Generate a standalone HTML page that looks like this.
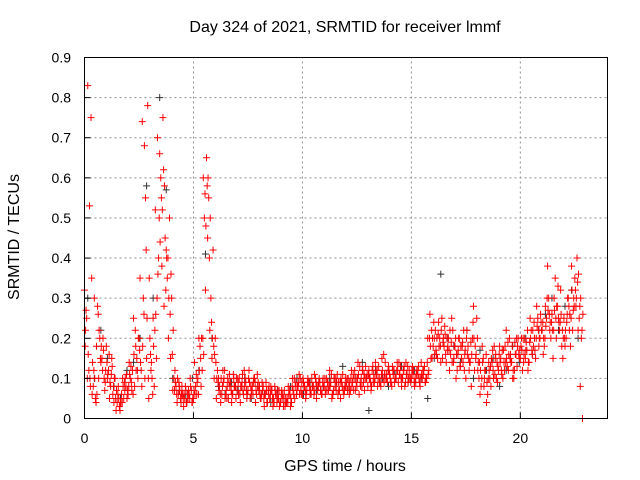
<!DOCTYPE html>
<html><head><meta charset="utf-8"><style>
body{margin:0;background:#fff;}
svg{display:block;font-family:"Liberation Sans",sans-serif;}
</style></head><body>
<svg id="chart" width="640" height="480" viewBox="0 0 640 480">
<rect width="640" height="480" fill="#fff"/>
<text x="345" y="32" font-size="16" text-anchor="middle">Day 324 of 2021, SRMTID for receiver lmmf</text>
<g id="grid"></g>
<g id="marks"></g>
<rect x="84.5" y="57.5" width="523" height="361" fill="none" stroke="#000" stroke-width="1"/>
<g id="axes"></g>
<text x="345" y="471" font-size="16" text-anchor="middle">GPS time / hours</text>
<text transform="translate(19,237) rotate(-90)" font-size="16" text-anchor="middle">SRMTID / TECUs</text>
</svg>
<script>
const xTicks=[0,5,10,15,20];
const yTicks=[0,0.1,0.2,0.3,0.4,0.5,0.6,0.7,0.8,0.9];
const yTickLabels=["0","0.1","0.2","0.3","0.4","0.5","0.6","0.7","0.8","0.9"];
const redStart=0, redStep=0.1;
const redValues=[0.32,0.25,0.12,0.75,0.08,0.05,0.28,0.2,0.15,0.1,
0.18,0.12,0.08,0.06,0.1,0.04,0.03,0.06,0.05,0.08,
0.06,0.1,0.12,0.08,0.15,0.2,0.12,0.3,0.55,0.78,
0.2,0.1,0.08,0.15,0.4,0.6,0.75,0.45,0.35,0.5,
0.3,0.1,0.08,0.06,0.05,0.06,0.05,0.04,0.06,0.07,
0.05,0.08,0.1,0.18,0.12,0.5,0.65,0.55,0.3,0.42,
0.2,0.12,0.08,0.06,0.1,0.07,0.05,0.09,0.06,0.08,
0.07,0.1,0.08,0.06,0.09,0.07,0.05,0.08,0.1,0.06,
0.07,0.05,0.08,0.06,0.04,0.05,0.07,0.04,0.06,0.05,
0.04,0.06,0.03,0.05,0.07,0.04,0.06,0.09,0.08,0.1,
0.06,0.08,0.07,0.09,0.06,0.08,0.1,0.07,0.09,0.06,
0.08,0.1,0.07,0.09,0.06,0.08,0.11,0.07,0.09,0.06,
0.08,0.1,0.07,0.09,0.12,0.08,0.06,0.1,0.09,0.13,
0.08,0.1,0.12,0.09,0.11,0.13,0.08,0.1,0.14,0.09,
0.11,0.08,0.12,0.1,0.09,0.13,0.1,0.08,0.11,0.12,
0.1,0.12,0.09,0.11,0.08,0.1,0.13,0.1,0.12,0.15,
0.18,0.22,0.15,0.2,0.25,0.18,0.14,0.2,0.16,0.22,
0.18,0.12,0.2,0.15,0.22,0.1,0.18,0.14,0.2,0.12,
0.25,0.1,0.08,0.15,0.12,0.06,0.1,0.14,0.18,0.1,
0.12,0.15,0.1,0.18,0.13,0.2,0.14,0.1,0.16,0.2,
0.15,0.12,0.2,0.17,0.14,0.22,0.18,0.15,0.25,0.2,
0.22,0.18,0.25,0.3,0.2,0.15,0.35,0.28,0.22,0.18,
0.25,0.2,0.3,0.18,0.22,0.35,0.4,0.25,0.2];
const red2Start=0.05, red2Step=0.1;
const red2Values=[0.22,0.83,0.1,0.06,0.3,0.18,0.1,0.14,0.2,0.09,
0.1,0.05,0.15,0.04,0.02,0.08,0.04,0.1,0.07,0.05,
0.14,0.09,0.25,0.18,0.1,0.35,0.74,0.68,0.15,0.05,
0.12,0.25,0.52,0.7,0.66,0.38,0.28,0.42,0.2,0.15,
0.07,0.12,0.04,0.08,0.06,0.03,0.07,0.05,0.1,0.04,
0.14,0.06,0.2,0.08,0.6,0.32,0.45,0.22,0.15,0.1,
0.05,0.1,0.04,0.12,0.05,0.08,0.11,0.04,0.1,0.05,
0.09,0.04,0.11,0.08,0.05,0.12,0.06,0.09,0.04,0.08,
0.06,0.09,0.03,0.07,0.06,0.08,0.03,0.07,0.05,0.03,
0.07,0.05,0.04,0.08,0.03,0.1,0.05,0.07,0.11,0.06,
0.09,0.05,0.1,0.06,0.08,0.11,0.05,0.09,0.07,0.1,
0.06,0.09,0.12,0.05,0.1,0.07,0.09,0.05,0.11,0.08,
0.1,0.06,0.12,0.07,0.1,0.14,0.09,0.12,0.07,0.1,
0.12,0.07,0.09,0.14,0.08,0.1,0.15,0.09,0.11,0.13,
0.09,0.12,0.1,0.14,0.11,0.08,0.12,0.14,0.09,0.1,
0.13,0.08,0.12,0.1,0.14,0.11,0.09,0.2,0.26,0.15,
0.2,0.16,0.24,0.14,0.19,0.21,0.17,0.12,0.25,0.15,
0.1,0.17,0.13,0.19,0.16,0.22,0.12,0.08,0.28,0.15,
0.12,0.06,0.18,0.1,0.04,0.14,0.08,0.12,0.15,0.09,
0.18,0.11,0.14,0.22,0.12,0.16,0.1,0.19,0.13,0.17,
0.2,0.14,0.17,0.12,0.25,0.16,0.2,0.28,0.18,0.24,
0.16,0.28,0.38,0.22,0.26,0.3,0.2,0.25,0.32,0.15,
0.18,0.26,0.22,0.38,0.3,0.28,0.22,0.08,0.0];
const red3Start=0.03, red3Step=0.1;
const red3Values=[0.18,0.1,0.53,0.35,0.12,0.04,0.26,0.15,0.12,0.07,
0.14,0.16,0.11,0.08,0.05,0.06,0.02,0.04,0.09,0.11,
0.08,0.13,0.06,0.22,0.12,0.17,0.08,0.26,0.42,0.1,
0.16,0.06,0.22,0.3,0.5,0.55,0.62,0.32,0.4,0.26,
0.16,0.07,0.06,0.09,0.04,0.05,0.08,0.06,0.05,0.04,
0.07,0.11,0.06,0.15,0.2,0.56,0.58,0.4,0.24,0.18,
0.14,0.09,0.06,0.08,0.12,0.05,0.09,0.07,0.11,0.08,
0.1,0.06,0.09,0.12,0.07,0.1,0.08,0.06,0.09,0.11,
0.08,0.06,0.05,0.09,0.07,0.06,0.05,0.08,0.04,0.07,
0.06,0.03,0.05,0.04,0.06,0.08,0.1,0.06,0.09,0.07,
0.1,0.07,0.09,0.08,0.1,0.06,0.09,0.08,0.07,0.09,
0.1,0.07,0.08,0.11,0.07,0.1,0.06,0.09,0.08,0.07,
0.09,0.08,0.1,0.11,0.07,0.1,0.13,0.08,0.11,0.1,
0.11,0.09,0.13,0.1,0.12,0.09,0.11,0.16,0.1,0.12,
0.1,0.13,0.09,0.12,0.14,0.1,0.12,0.09,0.13,0.1,
0.12,0.09,0.11,0.13,0.1,0.12,0.09,0.14,0.2,0.22,
0.24,0.17,0.21,0.18,0.15,0.23,0.2,0.17,0.19,0.14,
0.2,0.16,0.13,0.18,0.12,0.2,0.15,0.19,0.24,0.18,
0.2,0.14,0.1,0.08,0.16,0.1,0.13,0.17,0.11,0.14,
0.16,0.12,0.17,0.14,0.19,0.15,0.18,0.12,0.2,0.16,
0.18,0.2,0.15,0.22,0.19,0.17,0.24,0.2,0.22,0.26,
0.24,0.2,0.3,0.26,0.24,0.22,0.25,0.33,0.24,0.22,
0.2,0.24,0.28,0.25,0.27,0.32,0.34,0.28,0.22];
const red4Start=0.07, red4Step=0.1;
const red4Values=[0.27,0.16,0.08,0.14,0.1,0.06,0.22,0.18,0.17,0.12,
0.11,0.09,0.13,0.1,0.07,0.05,0.04,0.08,0.1,0.07,
0.11,0.07,0.16,0.12,0.2,0.14,0.18,0.1,0.25,0.35,
0.14,0.18,0.26,0.36,0.44,0.52,0.58,0.4,0.3,0.36,
0.22,0.09,0.1,0.07,0.08,0.06,0.04,0.07,0.08,0.05,
0.06,0.09,0.12,0.2,0.16,0.48,0.6,0.5,0.2,0.16,
0.1,0.07,0.1,0.09,0.06,0.1,0.08,0.06,0.08,0.1,
0.06,0.08,0.07,0.1,0.06,0.09,0.07,0.1,0.07,0.09,
0.05,0.07,0.06,0.04,0.08,0.07,0.05,0.06,0.07,0.04,
0.05,0.07,0.04,0.06,0.05,0.07,0.08,0.08,0.06,0.09,
0.08,0.06,0.09,0.07,0.08,0.07,0.08,0.1,0.06,0.08,
0.07,0.09,0.08,0.06,0.1,0.09,0.07,0.1,0.07,0.1,
0.07,0.09,0.08,0.1,0.09,0.11,0.08,0.12,0.1,0.11,
0.1,0.08,0.11,0.12,0.1,0.09,0.12,0.11,0.1,0.12,
0.09,0.11,0.1,0.12,0.11,0.1,0.13,0.11,0.1,0.09,
0.11,0.1,0.12,0.09,0.11,0.12,0.1,0.11,0.18,0.2,
0.16,0.2,0.18,0.22,0.2,0.16,0.18,0.22,0.14,0.18,
0.16,0.2,0.18,0.14,0.17,0.16,0.14,0.16,0.2,0.16,
0.14,0.12,0.14,0.12,0.09,0.12,0.15,0.1,0.16,0.13,
0.14,0.17,0.12,0.15,0.16,0.14,0.12,0.16,0.18,0.15,
0.17,0.16,0.19,0.14,0.2,0.22,0.17,0.23,0.2,0.22,
0.2,0.23,0.27,0.24,0.22,0.27,0.28,0.24,0.26,0.2,
0.22,0.3,0.26,0.32,0.28,0.3,0.36,0.3,0.26];
const blackStart=0.15, blackStep=0.3;
const blackValues=[0.3,0.1,0.22,0.15,0.08,0.05,0.12,0.14,0.2,0.58,
0.3,0.8,0.57,0.1,0.07,0.06,0.1,0.12,0.41,0.2,
0.08,0.06,0.09,0.07,0.1,0.05,0.08,0.06,0.04,0.07,
0.05,0.08,0.1,0.06,0.09,0.07,0.08,0.1,0.09,0.13,
0.07,0.1,0.14,0.02,0.12,0.1,0.08,0.11,0.13,0.09,
0.12,0.1,0.05,0.15,0.36,0.2,0.18,0.14,0.22,0.1,
0.17,0.12,0.15,0.08,0.12,0.18,0.14,0.2,0.16,0.22,
0.26,0.3,0.22,0.28,0.32,0.2];
const X0=84.5,X1=607.5,Y0=418.5,Y1=57.5;
function xScale(v){return X0+(v/24)*(X1-X0);}
function yScale(v){return Y0-(v/0.9)*(Y0-Y1);}
const ns="http://www.w3.org/2000/svg";
const grid=document.getElementById('grid'),axes=document.getElementById('axes'),marks=document.getElementById('marks');
function mk(tag,attrs,parent){const e=document.createElementNS(ns,tag);for(const k in attrs)e.setAttribute(k,attrs[k]);parent.appendChild(e);return e;}
xTicks.forEach(t=>{const x=xScale(t);
 if(t>0){const g=mk('line',{x1:x,x2:x,y1:Y0,y2:Y1,stroke:'#909090','stroke-dasharray':'2,3'},grid);}
 const tk=mk('line',{x1:x,x2:x,y1:Y0,y2:Y0-6,stroke:'#000'},axes);
 const tx=mk('text',{x:x,y:443,'font-size':14,'text-anchor':'middle'},axes);tx.textContent=String(t);
 });
yTicks.forEach((t,i)=>{const y=yScale(t);
 if(t>0){const g=mk('line',{x1:X0,x2:X1,y1:y,y2:y,stroke:'#909090','stroke-dasharray':'2,3'},grid);}
 const tk=mk('line',{x1:X0,x2:X0+6,y1:y,y2:y,stroke:'#000'},axes);
 const tx=mk('text',{x:71,y:y+5,'font-size':14,'text-anchor':'end'},axes);tx.textContent=yTickLabels[i];
 });
function plus(t,v,color,name){const x=xScale(t),y=yScale(v);
 const p=mk('path',{d:`M${x-3.5},${y}H${x+3.5}M${x},${y-3.5}V${y+3.5}`,stroke:color,'stroke-width':1,fill:'none'},marks);
 }
blackValues.forEach((v,i)=>plus(blackStart+i*blackStep,v,'#333','black-point'));
redValues.forEach((v,i)=>plus(redStart+i*redStep,v,'#ff0000','red-point'));
red2Values.forEach((v,i)=>plus(red2Start+i*red2Step,v,'#ff0000','red-point'));
red3Values.forEach((v,i)=>plus(red3Start+i*red3Step,v,'#ff0000','red-point'));
red4Values.forEach((v,i)=>plus(red4Start+i*red4Step,v,'#ff0000','red-point'));
</script>
</body></html>
